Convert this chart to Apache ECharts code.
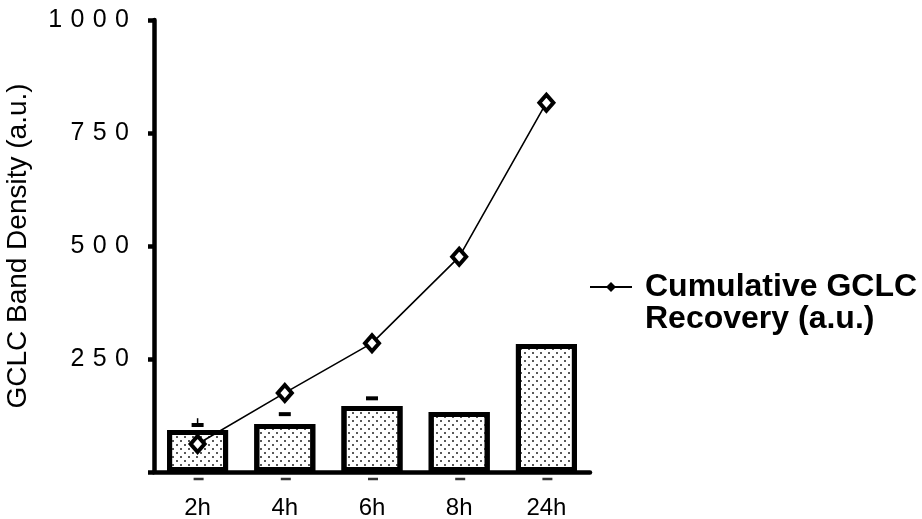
<!DOCTYPE html>
<html>
<head>
<meta charset="utf-8">
<script src="https://cdn.jsdelivr.net/npm/echarts@6/dist/echarts.min.js"></script>
<style>
html,body{margin:0;padding:0;background:#fff;}
#chart{width:922px;height:519px;}
</style>
</head>
<body>
<div id="chart"></div>
<script>
// ---- data ----
var categories = ['2h', '4h', '6h', '8h', '24h'];
var bandDensity = [93, 106, 146, 133, 283];
var cumulativeRecovery = [62, 175, 285, 476, 817];
var errorCapTop = [104, 128, 163, null, null];
var errorStemTop = [119, null, null, null, null];
var yTickValues = [0, 250, 500, 750, 1000];
var yTickLabels = ['', '2\u20045\u20040', '5\u20040\u20040', '7\u20045\u20040', '1\u20040\u20040\u20040'];
var lineName = 'Cumulative GCLC\nRecovery (a.u.)';
var yTitle = 'GCLC Band Density (a.u.)';

var FONT = 'Liberation Sans, Arial, Helvetica, sans-serif';

var capData = [];
errorCapTop.forEach(function (v, i) {
  if (v != null) capData.push([i, v, errorStemTop[i] == null ? v : errorStemTop[i]]);
});
var lowerDashData = categories.map(function (c, i) { return [i, 0]; });

var chart = echarts.init(document.getElementById('chart'), null, {renderer: 'canvas'});
chart.setOption({
  backgroundColor: '#fff',
  animation: false,
  textStyle: {fontFamily: FONT},
  grid: {left: 154, right: 332, top: 20, bottom: 47, containLabel: false, outerBoundsMode: 'none'},
  legend: {
    left: 590,
    top: 271,
    padding: 0,
    itemWidth: 42,
    itemHeight: 42,
    data: [{
      name: lineName,
      icon: 'path://M0,4 L17,4 L21,0 L25,4 L42,4 L42,6 L25,6 L21,10 L17,6 L0,6 Z M0,42 L0.01,42 L0,42 Z',
      itemStyle: {color: '#000', borderWidth: 0}
    }],
    textStyle: {
      fontFamily: FONT,
      fontSize: 32,
      fontWeight: 'bold',
      color: '#000',
      lineHeight: 32,
      padding: [0, 0, 0, 8]
    },
    selectedMode: false
  },
  xAxis: {
    type: 'category',
    data: categories,
    boundaryGap: true,
    axisLine: {show: true, lineStyle: {color: '#000', width: 4.5}},
    axisTick: {show: false},
    axisLabel: {color: '#000', fontSize: 24, fontFamily: FONT, margin: 24},
    splitLine: {show: false}
  },
  yAxis: {
    type: 'value',
    min: 0,
    max: 1000,
    interval: 250,
    name: yTitle,
    nameLocation: 'middle',
    nameRotate: 90,
    nameGap: 122,
    nameTextStyle: {color: '#000', fontSize: 28, fontFamily: FONT},
    axisLine: {show: true, lineStyle: {color: '#000', width: 4.5}},
    axisTick: {show: true, inside: false, length: 6, lineStyle: {color: '#000', width: 4.5}},
    axisLabel: {
      color: '#000', fontSize: 25, fontFamily: FONT, margin: 25,
      formatter: function (v) {
        var idx = yTickValues.indexOf(v);
        return idx >= 0 ? yTickLabels[idx] : '';
      }
    },
    splitLine: {show: false}
  },
  series: [
    {
      type: 'bar',
      name: 'GCLC Band Density',
      data: bandDensity,
      barWidth: 61,
      itemStyle: {
        color: '#fff',
        borderColor: '#000',
        borderWidth: 5,
        decal: {
          symbol: 'circle',
          symbolSize: 1,
          color: '#222',
          dashArrayX: [[2, 6], [0, 4, 2, 2]],
          dashArrayY: [2, 2],
          rotation: 0
        }
      },
      z: 2
    },
    {
      type: 'line',
      name: lineName,
      data: cumulativeRecovery,
      symbol: 'diamond',
      symbolSize: [14, 16],
      showAllSymbol: true,
      lineStyle: {color: '#000', width: 1.6},
      itemStyle: {color: '#fff', borderColor: '#000', borderWidth: 4},
      z: 5
    },
    {
      type: 'custom',
      name: 'errorCaps',
      data: capData,
      z: 4,
      renderItem: function (params, api) {
        var x = api.value(0);
        var capP = api.coord([x, api.value(1)]);
        var stemP = api.coord([x, api.value(2)]);
        return {
          type: 'group',
          children: [
            {type: 'line', shape: {x1: capP[0], y1: capP[1], x2: stemP[0], y2: stemP[1]},
             style: {stroke: '#000', lineWidth: 1.5}},
            {type: 'rect', shape: {x: capP[0] - 6, y: capP[1] - 2, width: 12, height: 4},
             style: {fill: '#000'}}
          ]
        };
      }
    },
    {
      type: 'scatter',
      name: 'lowerDash',
      data: lowerDashData,
      symbol: 'rect',
      symbolSize: [10, 2.5],
      symbolOffset: [1, 7],
      itemStyle: {color: '#000'},
      clip: false,
      z: 4
    }
  ]
});
</script>
</body>
</html>
